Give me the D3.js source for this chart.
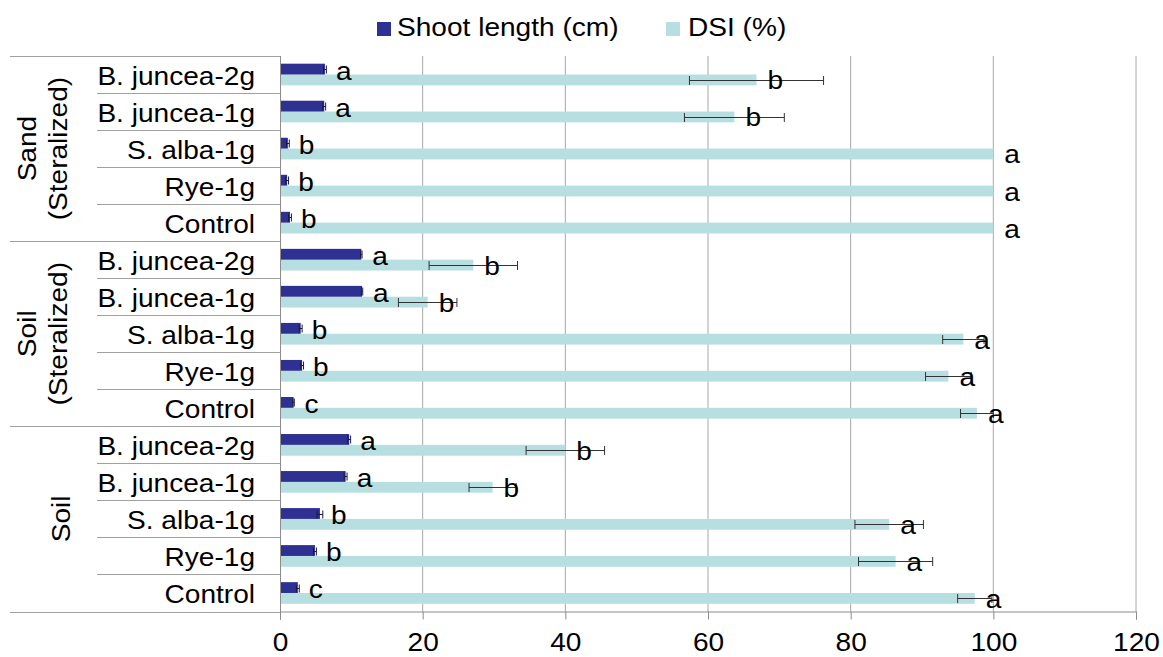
<!DOCTYPE html>
<html>
<head>
<meta charset="utf-8">
<script src="https://cdn.jsdelivr.net/npm/d3@7"></script>
<style>
  html, body { margin: 0; padding: 0; background: #ffffff; }
  svg { display: block; }
  text { font-family: "Liberation Sans", Arial, Helvetica, sans-serif; fill: #000; }
</style>
</head>
<body>
<svg id="chart" width="1163" height="657"></svg>
<script>
// Treatments within each substrate, listed top to bottom
const treatments = ["B. juncea-2g", "B. juncea-1g", "S. alba-1g", "Rye-1g", "Control"];
// Substrate groups, top to bottom; each label may span two lines
const groups = ["Sand (Steralized)", "Soil (Steralized)", "Soil"];
const groupLines = [["Sand", "(Steralized)"], ["Soil", "(Steralized)"], ["Soil"]];

// Shoot length (cm), per group, in treatment order
const shootLength = [
  [6.3, 6.2, 1.1, 1.0, 1.4],
  [11.4, 11.5, 2.9, 3.1, 1.9],
  [9.7, 9.2, 5.6, 4.9, 2.5]
];
const shootErr = [
  [0.2, 0.2, 0.2, 0.2, 0.2],
  [0.1, 0.1, 0.2, 0.2, 0.1],
  [0.2, 0.2, 0.4, 0.2, 0.2]
];
const shootLetters = [
  ["a", "a", "b", "b", "b"],
  ["a", "a", "b", "b", "c"],
  ["a", "a", "b", "b", "c"]
];

// Disease severity index (%), per group, in treatment order
const dsi = [
  [66.8, 63.7, 100, 100, 100],
  [27.1, 20.7, 95.8, 93.7, 97.7],
  [40.0, 29.8, 85.4, 86.3, 97.4]
];
const dsiErr = [
  [9.4, 7.0, 0, 0, 0],
  [6.2, 4.1, 2.9, 3.2, 2.3],
  [5.5, 3.3, 4.8, 5.2, 2.4]
];
const dsiLetters = [
  ["b", "b", "a", "a", "a"],
  ["b", "b", "a", "a", "a"],
  ["b", "b", "a", "a", "a"]
];

const xTicks = [0, 20, 40, 60, 80, 100, 120];
const seriesNames = ["Shoot length (cm)", "DSI (%)"];
const seriesColors = ["#2e3192", "#b7dee0"];

// Flatten into one row per bar pair
const rows = [];
groups.forEach((g, gi) => {
  treatments.forEach((t, ti) => {
    rows.push({
      key: g + "|" + t, group: gi, treatment: t,
      shoot: shootLength[gi][ti], shootErr: shootErr[gi][ti], shootLetter: shootLetters[gi][ti],
      dsi: dsi[gi][ti], dsiErr: dsiErr[gi][ti], dsiLetter: dsiLetters[gi][ti]
    });
  });
});

const svg = d3.select("#chart");
const fontSize = 26;
const stretch = 1.08;   // slightly wide lettering
const plot = { left: 280, right: 1136, top: 56, bottom: 611.5 };

const x = d3.scaleLinear().domain([0, 120]).range([plot.left, plot.right]);
const pad = 0.415;
const y = d3.scaleBand()
  .domain(rows.map(r => r.key))
  .range([plot.top, plot.bottom])
  .paddingInner(pad)
  .paddingOuter(pad / 2);
const sub = d3.scaleBand().domain(["shoot", "dsi"]).range([0, y.bandwidth()]);
const step = y.step();
const rowTop = r => y(r.key) - y.paddingOuter() * step;

// Places a text at (tx, ty) with widened glyphs, optionally rotated
function wideText(parent, tx, ty, str, anchor, rotate) {
  return parent.append("text")
    .attr("font-size", fontSize)
    .attr("text-anchor", anchor || "start")
    .attr("transform", `translate(${tx},${ty})${rotate ? ` rotate(${rotate})` : ""} scale(${stretch},1)`)
    .text(str);
}

// Vertical gridlines
svg.append("g")
  .selectAll("line")
  .data(xTicks.filter(t => t > 0))
  .join("line")
  .attr("x1", d => x(d)).attr("x2", d => x(d))
  .attr("y1", plot.top).attr("y2", plot.bottom)
  .attr("stroke", "#a8a8a8").attr("stroke-width", 1);

// Bars
const barG = svg.append("g");
barG.selectAll("rect.dsi")
  .data(rows)
  .join("rect")
  .attr("class", "dsi")
  .attr("x", x(0))
  .attr("y", r => y(r.key) + sub("dsi"))
  .attr("width", r => x(r.dsi) - x(0))
  .attr("height", sub.bandwidth())
  .attr("fill", seriesColors[1]);
barG.selectAll("rect.shoot")
  .data(rows)
  .join("rect")
  .attr("class", "shoot")
  .attr("x", x(0))
  .attr("y", r => y(r.key) + sub("shoot"))
  .attr("width", r => x(r.shoot) - x(0))
  .attr("height", sub.bandwidth())
  .attr("fill", seriesColors[0]);

// Error bars with end caps
function errorBars(cls, valueOf, errOf, capH, color) {
  const g = svg.append("g").attr("stroke", color).attr("stroke-width", 1);
  const data = rows.filter(r => errOf(r) > 0);
  const cy = r => Math.round(y(r.key) + sub(cls) + sub.bandwidth() / 2) + 0.5;
  g.selectAll("line.bar")
    .data(data).join("line")
    .attr("x1", r => x(valueOf(r) - errOf(r))).attr("x2", r => x(valueOf(r) + errOf(r)))
    .attr("y1", cy).attr("y2", cy);
  [-1, 1].forEach(s => {
    g.selectAll("line.cap" + (s > 0 ? "r" : "l"))
      .data(data).join("line")
      .attr("x1", r => x(valueOf(r) + s * errOf(r))).attr("x2", r => x(valueOf(r) + s * errOf(r)))
      .attr("y1", r => cy(r) - capH / 2).attr("y2", r => cy(r) + capH / 2);
  });
}
errorBars("shoot", r => r.shoot, r => r.shootErr, 8, "#1a1a40");
errorBars("dsi", r => r.dsi, r => r.dsiErr, 9, "#333333");

// Significance letters
const letterG = svg.append("g");
rows.forEach(r => {
  wideText(letterG, x(r.shoot) + 11, y(r.key) + sub("shoot") + sub.bandwidth() / 2 + 10.5, r.shootLetter);
  wideText(letterG, x(r.dsi) + 11, y(r.key) + sub("dsi") + sub.bandwidth() / 2 + 9.5, r.dsiLetter);
});

// X axis
const xAxis = svg.append("g")
  .attr("transform", `translate(0,${plot.bottom})`)
  .call(d3.axisBottom(x).tickValues(xTicks).tickSize(8).tickPadding(0).tickFormat(d3.format("d")));
xAxis.select(".domain").attr("stroke", "#8c8c8c");
xAxis.selectAll(".tick line").attr("stroke", "#8c8c8c");
xAxis.selectAll(".tick text").remove();
xAxis.selectAll(".tick").each(function (d) {
  wideText(d3.select(this), 0, 39.5, d3.format("d")(d), "middle");
});

// Category axis line
svg.append("line")
  .attr("x1", plot.left + 0.5).attr("x2", plot.left + 0.5)
  .attr("y1", plot.top).attr("y2", plot.bottom + 8)
  .attr("stroke", "#8c8c8c");

// Row separators in the label area
const sepG = svg.append("g").attr("stroke", "#a0a0a0").attr("stroke-width", 1);
rows.forEach((r, i) => {
  if (i % treatments.length === 0) return;
  const yy = Math.round(rowTop(r)) + 0.5;
  sepG.append("line").attr("x1", 97).attr("x2", plot.left).attr("y1", yy).attr("y2", yy);
});
// Group separators (including top and bottom)
d3.range(groups.length + 1).forEach(gi => {
  const yy = Math.round(plot.top + gi * treatments.length * step) + 0.5;
  sepG.append("line").attr("x1", 10).attr("x2", plot.left).attr("y1", yy).attr("y2", yy);
});

// Treatment labels
const catG = svg.append("g");
rows.forEach(r => wideText(catG, 255, rowTop(r) + step / 2 + 10, r.treatment, "end"));

// Group labels, rotated
const groupX = [[36, 67], [36, 67], [70]];
const grpG = svg.append("g");
groupLines.forEach((lines, gi) => {
  const cy = plot.top + (gi + 0.5) * treatments.length * step;
  lines.forEach((ln, li) => wideText(grpG, groupX[gi][li], cy, ln, "middle", -90));
});

// Legend
const legendItems = [
  { name: seriesNames[0], color: seriesColors[0], sx: 377, tx: 397 },
  { name: seriesNames[1], color: seriesColors[1], sx: 666, tx: 688 }
];
const lg = svg.append("g");
legendItems.forEach(it => {
  lg.append("rect").attr("x", it.sx).attr("y", 22).attr("width", 14).attr("height", 14).attr("fill", it.color);
  wideText(lg, it.tx, 36, it.name);
});
</script>
</body>
</html>
